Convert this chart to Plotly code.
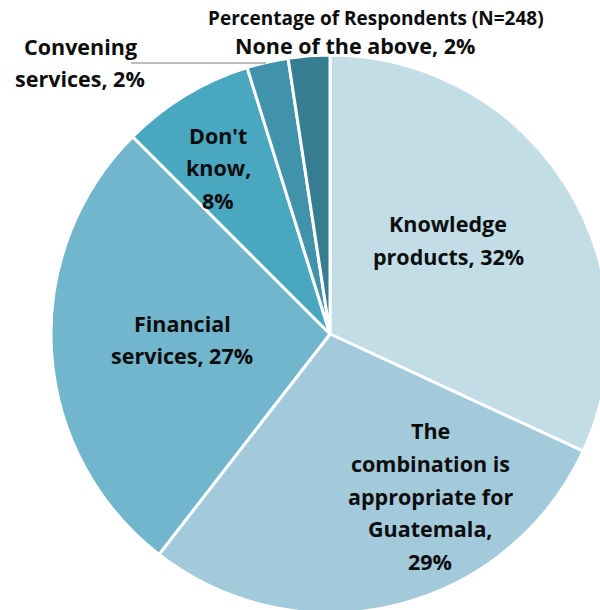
import plotly.graph_objects as go

categories = ["Knowledge products", "The combination is appropriate for Guatemala",
              "Financial services", "Don't know", "Convening services", "None of the above"]
values = [31.9, 28.6, 27.0, 7.7, 2.4, 2.4]
colors = ["#c2dde6", "#a2cadb", "#71b6cc", "#49a7c0", "#4192ab", "#367d92"]
label_lines = [["Knowledge", "products, 32%"],
               ["The", "combination is", "appropriate for", "Guatemala,", "29%"],
               ["Financial", "services, 27%"],
               ["Don't", "know,", "8%"],
               ["Convening", "services, 2%"],
               ["None of the above, 2%"]]
title_text = "Percentage of Respondents (N=248)"

W, H = 700, 700
CX, CY, R = 330, 334, 279

def px(x):
    return x / W

def py(y):
    return (H - y) / H

fig = go.Figure()
fig.add_trace(go.Pie(
    labels=categories, values=values, sort=False, direction="clockwise", rotation=0,
    marker=dict(colors=colors, line=dict(color="white", width=3)),
    textinfo="none", hoverinfo="label+percent", showlegend=False,
    domain=dict(x=[px(CX - R), px(CX + R)], y=[py(CY + R), py(CY - R)]),
))

font_family = "'Open Sans', sans-serif"
# (center x, first-line y) for each label block
label_pos = [(448, 224), (430, 431), (182, 323), (218, 135), (80, 46), (355, 45.5)]
LINE = 32.5
annotations = []
for lines, (lx, ly) in zip(label_lines, label_pos):
    for i, line in enumerate(lines):
        annotations.append(dict(
            text="<b>" + line + "</b>", x=px(lx), y=py(ly + i * LINE),
            xref="paper", yref="paper",
            showarrow=False, xanchor="center", yanchor="middle", align="center",
            font=dict(family=font_family, size=21.5, color="#0d0d0d"),
        ))
annotations.append(dict(
    text="<b>" + title_text + "</b>", x=px(376), y=py(17.5), xref="paper", yref="paper",
    showarrow=False, xanchor="center", yanchor="middle",
    font=dict(family=font_family, size=19, color="#0d0d0d"),
))

fig.update_layout(
    width=W, height=H, margin=dict(l=0, r=0, t=0, b=0),
    paper_bgcolor="white", plot_bgcolor="white",
    annotations=annotations,
    shapes=[dict(type="line", xref="paper", yref="paper",
                 x0=px(131), y0=py(63), x1=px(266), y1=py(63),
                 line=dict(color="#a6a6a6", width=1.5))],
)

fig.write_html("out.html", post_script="document.body.style.margin='0';document.body.style.overflow='hidden';")
